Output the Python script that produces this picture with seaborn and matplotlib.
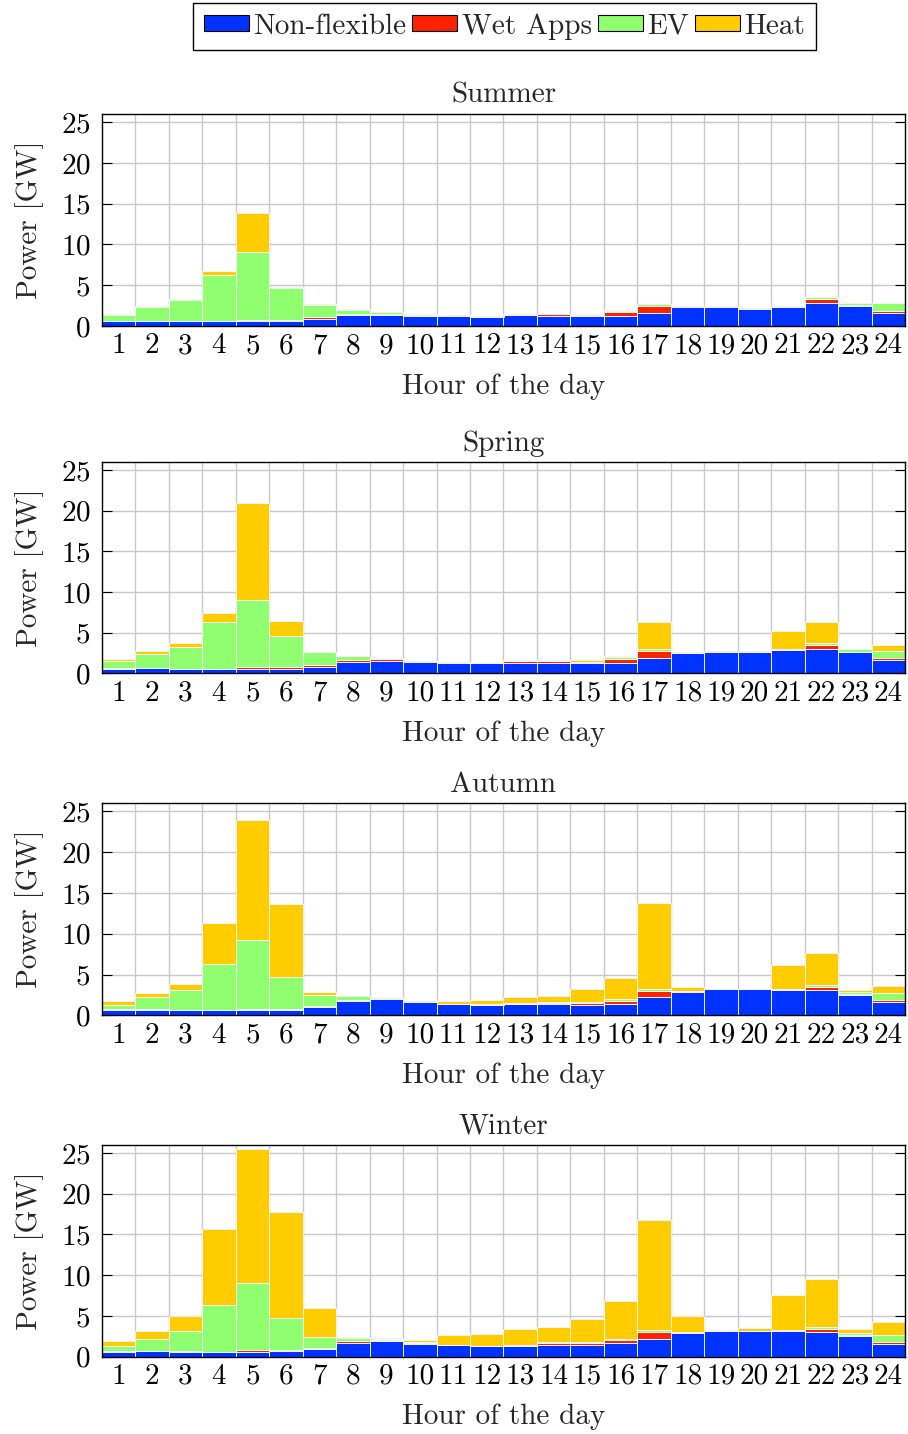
import numpy as np
import pandas as pd
import matplotlib
matplotlib.use("Agg")
import matplotlib.pyplot as plt
from matplotlib.patches import Patch
import seaborn as sns

# ---- data (GW per hour of the day) ----
hours = list(range(1, 25))
seasons = ["Summer", "Spring", "Autumn", "Winter"]
loads = ["Non-flexible", "Wet Apps", "EV", "Heat"]
colors = ["#0033ff", "#ff2200", "#90ff6f", "#ffcc00"]

summer_nonflex = [0.60, 0.65, 0.60, 0.57, 0.57, 0.57, 0.86, 1.31, 1.31, 1.27, 1.23, 1.15,
                  1.30, 1.27, 1.19, 1.27, 1.64, 2.30, 2.38, 2.13, 2.30, 2.79, 2.50, 1.56]
summer_wet = [0.05, 0.02, 0.02, 0.02, 0.20, 0.20, 0.20, 0.17, 0.20, 0.03, 0.02, 0.02,
              0.10, 0.20, 0.20, 0.45, 0.82, 0.12, 0.03, 0.05, 0.12, 0.50, 0.08, 0.24]
summer_ev = [0.70, 1.65, 2.60, 5.70, 8.36, 3.90, 1.47, 0.52, 0.22, 0.13, 0.03, 0.02,
             0.02, 0.03, 0.05, 0.12, 0.24, 0.02, 0.02, 0.02, 0.02, 0.24, 0.25, 1.00]
summer_heat = [0.12, 0.15, 0.12, 0.45, 4.75, 0.12, 0.16, 0.05, 0.03, 0.02, 0.01, 0.01,
               0.03, 0.02, 0.08, 0.08, 0.05, 0.02, 0.01, 0.01, 0.03, 0.05, 0.02, 0.08]

spring_nonflex = [0.57, 0.61, 0.53, 0.53, 0.49, 0.57, 0.82, 1.43, 1.55, 1.43, 1.23, 1.23,
                  1.31, 1.31, 1.23, 1.31, 1.92, 2.45, 2.66, 2.66, 2.90, 3.02, 2.57, 1.63]
spring_wet = [0.08, 0.03, 0.03, 0.05, 0.29, 0.17, 0.20, 0.17, 0.17, 0.04, 0.04, 0.02,
              0.16, 0.16, 0.16, 0.41, 0.82, 0.16, 0.02, 0.02, 0.08, 0.41, 0.09, 0.25]
spring_ev = [0.85, 1.73, 2.62, 5.70, 8.20, 3.88, 1.55, 0.48, 0.16, 0.04, 0.04, 0.02,
             0.02, 0.02, 0.02, 0.24, 0.24, 0.02, 0.01, 0.01, 0.02, 0.29, 0.28, 0.86]
spring_heat = [0.26, 0.33, 0.49, 1.19, 12.00, 1.80, 0.08, 0.03, 0.03, 0.04, 0.04, 0.02,
               0.12, 0.16, 0.28, 0.16, 3.27, 0.04, 0.02, 0.02, 2.17, 2.61, 0.08, 0.69]

autumn_nonflex = [0.65, 0.69, 0.65, 0.61, 0.61, 0.69, 0.98, 1.75, 1.96, 1.67, 1.35, 1.26,
                  1.35, 1.35, 1.30, 1.43, 2.20, 2.85, 3.18, 3.18, 3.06, 3.06, 2.53, 1.63]
autumn_wet = [0.07, 0.03, 0.03, 0.03, 0.21, 0.13, 0.16, 0.13, 0.20, 0.05, 0.04, 0.05,
              0.08, 0.15, 0.20, 0.36, 0.78, 0.13, 0.02, 0.02, 0.12, 0.41, 0.12, 0.21]
autumn_ev = [0.58, 1.48, 2.46, 5.68, 8.36, 3.83, 1.31, 0.44, 0.08, 0.03, 0.02, 0.02,
             0.03, 0.13, 0.13, 0.17, 0.24, 0.03, 0.01, 0.01, 0.02, 0.24, 0.16, 0.85]
autumn_heat = [0.41, 0.53, 0.73, 4.98, 14.72, 8.97, 0.40, 0.05, 0.04, 0.06, 0.36, 0.57,
               0.81, 0.74, 1.59, 2.65, 10.50, 0.49, 0.02, 0.04, 2.98, 3.92, 0.29, 0.90]

winter_nonflex = [0.57, 0.65, 0.61, 0.57, 0.57, 0.65, 0.90, 1.64, 1.88, 1.60, 1.39, 1.31,
                  1.35, 1.47, 1.47, 1.64, 2.13, 2.86, 3.15, 3.15, 3.11, 3.03, 2.58, 1.60]
winter_wet = [0.08, 0.02, 0.04, 0.05, 0.25, 0.13, 0.20, 0.24, 0.21, 0.04, 0.04, 0.04,
              0.08, 0.21, 0.17, 0.41, 0.90, 0.21, 0.02, 0.02, 0.12, 0.41, 0.12, 0.20]
winter_ev = [0.62, 1.50, 2.50, 5.72, 8.18, 3.97, 1.27, 0.41, 0.04, 0.12, 0.02, 0.02,
             0.02, 0.08, 0.12, 0.08, 0.24, 0.02, 0.02, 0.01, 0.02, 0.24, 0.20, 0.86]
winter_heat = [0.65, 0.98, 1.84, 9.37, 16.53, 13.01, 3.64, 0.08, 0.20, 0.29, 1.23, 1.43,
               1.97, 1.92, 2.86, 4.70, 13.51, 1.88, 0.08, 0.37, 4.26, 5.81, 0.46, 1.64]

season_series = {
    "Summer": [summer_nonflex, summer_wet, summer_ev, summer_heat],
    "Spring": [spring_nonflex, spring_wet, spring_ev, spring_heat],
    "Autumn": [autumn_nonflex, autumn_wet, autumn_ev, autumn_heat],
    "Winter": [winter_nonflex, winter_wet, winter_ev, winter_heat],
}

# long-format table for seaborn
rows = []
for s in seasons:
    for load, vals in zip(loads, season_series[s]):
        for h, v in zip(hours, vals):
            rows.append({"season": s, "hour": h, "load": load, "power": v})
df = pd.DataFrame(rows)

# ---- style ----
sns.set_theme(style="white")
plt.rcParams["font.family"] = ["cmr10", "DejaVu Serif"]
plt.rcParams["axes.formatter.use_mathtext"] = True
plt.rcParams["mathtext.fontset"] = "cm"
FS = 21

W, H = 908, 1434
fig = plt.figure(figsize=(W / 100, H / 100), dpi=100)

# axes boxes in pixels: (left, top, right, bottom)
boxes = [(101.7, 114.0, 905.3, 326.0),
         (101.7, 461.7, 905.3, 673.3),
         (101.7, 803.3, 905.3, 1015.3),
         (101.7, 1144.7, 905.3, 1356.7)]

palette = dict(zip(loads, colors))
stack_order = loads[::-1]  # seaborn puts the first hue level on top of the stack

for s, (l, t, r, b) in zip(seasons, boxes):
    ax = fig.add_axes([l / W, 1 - b / H, (r - l) / W, (b - t) / H])
    ax.set_axisbelow(True)
    sns.histplot(data=df[df.season == s], x="hour", weights="power", hue="load",
                 hue_order=stack_order, palette=palette, multiple="stack",
                 discrete=True, shrink=1, alpha=1, element="bars",
                 edgecolor="#f4f4f4", linewidth=0.7, legend=False, ax=ax)
    ax.set_xlim(0.5, 24.5)
    ax.set_ylim(0, 26)
    ax.set_xticks(hours)
    ax.set_xticklabels([str(h) for h in hours])
    ax.set_xticks(np.arange(1.5, 24.5, 1), minor=True)
    ax.set_yticks([0, 5, 10, 15, 20, 25])
    ax.grid(False)
    ax.grid(True, which="minor", axis="x", color="#c8c8c8", linewidth=1.0)
    ax.grid(True, which="major", axis="y", color="#c8c8c8", linewidth=1.0)
    ax.tick_params(axis="x", which="both", length=0, labelsize=FS, pad=5, colors="black")
    ax.tick_params(axis="y", which="major", direction="in", length=7, width=0.8,
                   left=True, right=True, labelsize=FS, pad=8, colors="black")
    for sp in ax.spines.values():
        sp.set_visible(True)
        sp.set_color("black")
        sp.set_linewidth(1.0)
    ax.set_title(s, fontsize=FS, pad=8)
    ax.set_xlabel("Hour of the day", fontsize=FS, labelpad=10)
    ax.set_ylabel("Power [GW]", fontsize=FS, labelpad=12)

handles = [Patch(facecolor=c, edgecolor="black", linewidth=0.8) for c in colors]
fig.legend(handles, loads, loc="upper center", bbox_to_anchor=(504.5 / W, 1 - 3 / H),
           ncol=4, fontsize=FS, frameon=True, fancybox=False, edgecolor="black",
           framealpha=1, handlelength=1.55, handleheight=0.45, handletextpad=0.15,
           columnspacing=0.2, borderpad=0.35, borderaxespad=0)

fig.savefig("out.png", dpi=100)
